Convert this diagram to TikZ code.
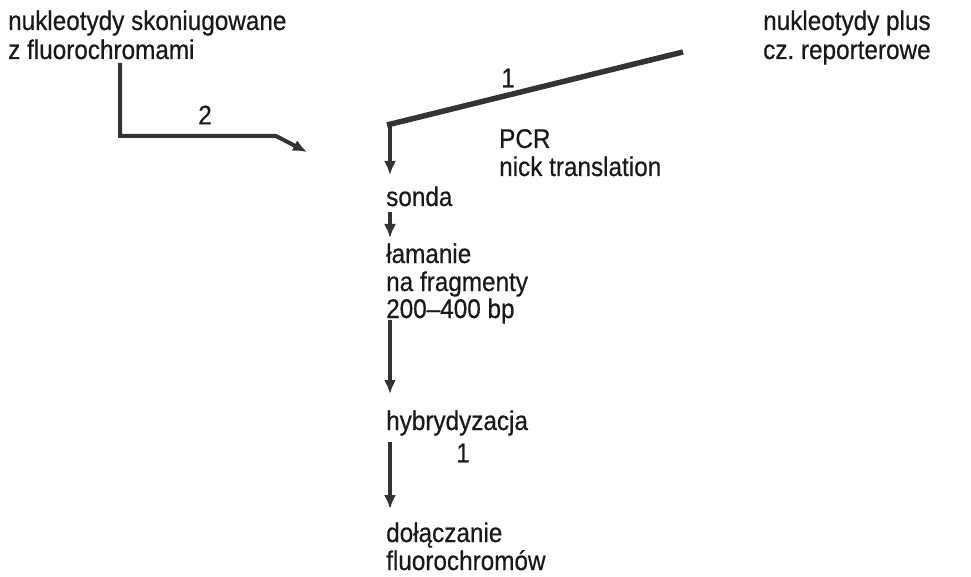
\documentclass[tikz,border=0pt]{standalone}
\usepackage{fontspec}
\setmainfont{Liberation Sans}[FakeBold=0.5, FakeStretch=0.9]
\usetikzlibrary{arrows.meta}
\begin{document}
\frenchspacing
\begin{tikzpicture}[x=1pt,y=-1pt,
  lbl/.style={anchor=base west, inner sep=0pt, font=\fontsize{27}{28}\selectfont, text=black!90},
  num/.style={inner sep=0pt, font=\fontsize{27}{28}\selectfont, text=black!90},
  feed/.style={draw=black!80, line width=4pt},
  flow/.style={draw=black!80, line width=3.5pt, -{Latex[length=14pt,width=12pt]}},
]
\useasboundingbox (0,0) rectangle (971,577);

% substrates
\node[lbl] (srcBa) at (8,30) {nukleotydy skoniugowane};
\node[lbl] (srcBb) at (8,59) {z fluorochromami};
\node[lbl] (srcAa) at (763,30) {nukleotydy plus};
\node[lbl] (srcAb) at (763,59) {cz. reporterowe};

% method labels
\node[lbl] (pcr) at (499,148) {PCR};
\node[lbl] (nick) at (499,176) {nick translation};

% main chain
\node[lbl] (sonda) at (386,206) {sonda};
\node[lbl] (lamA) at (386,263) {łamanie};
\node[lbl] (lamB) at (386,291) {na fragmenty};
\node[lbl] (lamC) at (386,318) {200–400 bp};
\node[lbl] (hyb) at (386,430) {hybrydyzacja};
\node[lbl] (dolA) at (386,542) {dołączanie};
\node[lbl] (dolB) at (386,570) {fluorochromów};

% route numbers
\node[num] (numB) at (205,115) {2};
\node[num] (numA) at (508,78) {1};
\node[num] (numC) at (463,453) {1};

% connector points
\coordinate (feedA) at (683,52);
\coordinate (join) at (387,125);
\coordinate (feedBtop) at (120,63);
\coordinate (feedBbend) at (120,136);
\coordinate (feedBknee) at (276,136);
\coordinate (feedBtip) at (307,152);
\coordinate (axJoin) at (390,123);
\coordinate (axSondaIn) at (390,175);
\coordinate (axSondaOut) at (390,212);
\coordinate (axLamIn) at (390,238);
\coordinate (axLamOut) at (390,320);
\coordinate (axHybIn) at (390,394);
\coordinate (axHybOut) at (390,442);
\coordinate (axDolIn) at (390,509);

% route 1: reporter nucleotides into the probe synthesis
\draw[feed, line width=5.5pt] (feedA) -- (join);
% route 2: fluorochrome-conjugated nucleotides
\draw[feed, -{Latex[length=14pt,width=12pt]}] (feedBtop) -- (feedBbend) -- (feedBknee) -- (feedBtip);

% process steps
\draw[flow] (axJoin) -- (axSondaIn);
\draw[flow] (axSondaOut) -- (axLamIn);
\draw[flow] (axLamOut) -- (axHybIn);
\draw[flow] (axHybOut) -- (axDolIn);
\end{tikzpicture}
\end{document}
